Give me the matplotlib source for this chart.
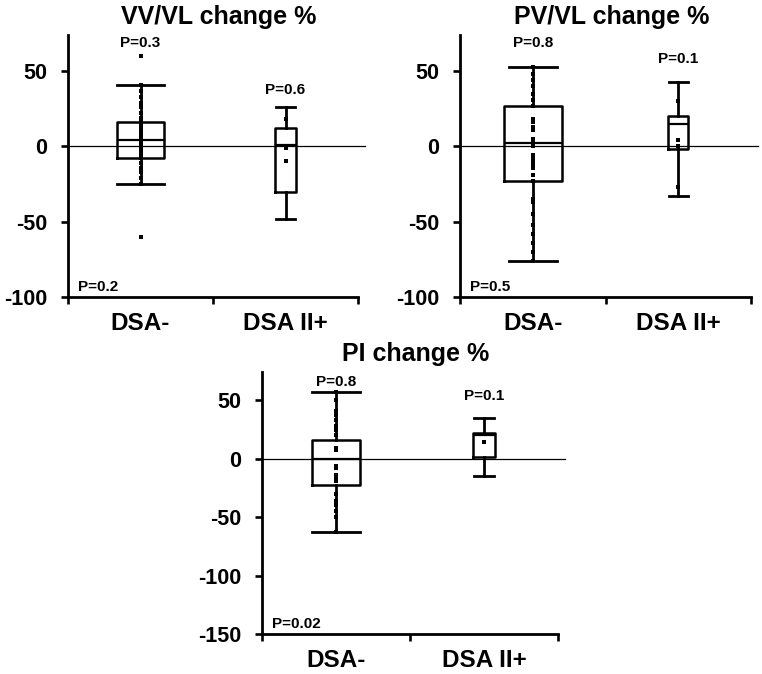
import matplotlib
matplotlib.use("Agg")
import matplotlib.pyplot as plt

plt.rcParams['font.family'] = ['Liberation Sans', 'DejaVu Sans']
plt.rcParams['font.weight'] = 'bold'

categories = ["DSA-", "DSA II+"]

# ---- VV/VL change % ----
vv_med = [4, 1]
vv_q1 = [-8, -30]
vv_q3 = [16, 12]
vv_lo = [-25, -48]
vv_hi = [41, 26]
vv_pts_neg = [60, 41, 37, 33, 29, 26, 22, 19, 16, 14, 12, 10, 8, 6, 4, 2, 0,
              -2, -4, -6, -8, -11, -14, -17, -21, -25, -60]
vv_pts_pos = [18, -1, -10]
vv_p = ["P=0.3", "P=0.6"]
vv_p_all = "P=0.2"

# ---- PV/VL change % ----
pv_med = [2, 15]
pv_q1 = [-23, -2]
pv_q3 = [27, 20]
pv_lo = [-76, -33]
pv_hi = [53, 43]
pv_pts_neg = [53, 48, 44, 40, 35, 31, 27, 18, 16, 13, 11, 5, 3, 1, 0, -6, -8,
              -10, -12, -14, -19, -23, -35, -37, -45, -52, -58, -64, -70, -76]
pv_pts_pos = [30, 4, 0, -27]
pv_p = ["P=0.8", "P=0.1"]
pv_p_all = "P=0.5"

# ---- PI change % ----
pi_med = [0, 20]
pi_q1 = [-23, 1]
pi_q3 = [16, 22]
pi_lo = [-63, -15]
pi_hi = [57, 35]
pi_pts_neg = [57, 50, 41, 37, 33, 28, 24, 20, 9, 7, -6, -8, -14, -16, -19,
              -30, -36, -40, -45, -50, -63]
pi_pts_pos = [14]
pi_p = ["P=0.8", "P=0.1"]
pi_p_all = "P=0.02"

yticks_top = [50, 0, -50, -100]
yticks_bot = [50, 0, -50, -100, -150]

W, H = 762, 674
fig = plt.figure(figsize=(W / 100, H / 100), dpi=100)


def fa(l, r, t, b):
    return [l / W, 1 - b / H, (r - l) / W, (b - t) / H]


def panel(rect, title, med, q1, q3, lo, hi, pts_neg, pts_pos, ptxt, ptxt_y,
          pall, ylim, yticks, widths, capw):
    ax = fig.add_axes(rect)
    stats = []
    for i in range(2):
        stats.append(dict(med=med[i], q1=q1[i], q3=q3[i], whislo=lo[i],
                          whishi=hi[i], fliers=[]))
    ax.bxp(stats, positions=[1, 2], widths=widths, capwidths=capw,
           showfliers=False, manage_ticks=False,
           boxprops=dict(color='black', lw=1.8),
           whiskerprops=dict(color='black', lw=2.0),
           capprops=dict(color='black', lw=2.0),
           medianprops=dict(color='black', lw=1.6))
    ax.plot([1] * len(pts_neg), pts_neg, 's', color='black', ms=2.4, mew=0)
    ax.plot([2] * len(pts_pos), pts_pos, 's', color='black', ms=2.4, mew=0)
    ax.axhline(0, xmin=0, xmax=1.025, color='black', lw=0.9, clip_on=False)
    ax.set_xlim(0.5, 2.5)
    ax.set_ylim(*ylim)
    ax.set_yticks(yticks)
    ax.set_yticklabels([str(v) for v in yticks])
    ax.set_xticks([1, 2])
    ax.set_xticklabels(categories)
    ax.set_xticks([0.5, 1.5, 2.5], minor=True)
    ax.tick_params(axis='x', which='major', length=0, pad=11, labelsize=17.5)
    ax.tick_params(axis='x', which='minor', length=5, width=1.9,
                   direction='out')
    ax.tick_params(axis='y', length=5, width=1.9, pad=10, labelsize=15.5)
    for s in ['top', 'right']:
        ax.spines[s].set_visible(False)
    for s in ['left', 'bottom']:
        ax.spines[s].set_linewidth(2.0)
    for i in range(2):
        ax.text(i + 1, ptxt_y[i], ptxt[i], ha='center', va='center',
                fontsize=11, fontweight='bold')
    ax.text(0.035, 0.038, pall, transform=ax.transAxes, ha='left',
            va='center', fontsize=11, fontweight='bold')
    ax.text(0.52, 1.042, title, transform=ax.transAxes, ha='center',
            va='baseline', fontsize=18, fontweight='bold')
    return ax


panel(fa(68, 358, 35, 297), "VV/VL change %", vv_med, vv_q1, vv_q3, vv_lo,
      vv_hi, vv_pts_neg, vv_pts_pos, vv_p, [68.5, 37.5], vv_p_all,
      (-100, 74), yticks_top, [0.33, 0.14], [0.33, 0.13])
panel(fa(460, 751, 35, 297), "PV/VL change %", pv_med, pv_q1, pv_q3, pv_lo,
      pv_hi, pv_pts_neg, pv_pts_pos, pv_p, [68.5, 58], pv_p_all,
      (-100, 74), yticks_top, [0.40, 0.14], [0.33, 0.13])
panel(fa(262, 558, 372, 634), "PI change %", pi_med, pi_q1, pi_q3, pi_lo,
      pi_hi, pi_pts_neg, pi_pts_pos, pi_p, [65.5, 53.5], pi_p_all,
      (-150, 74), yticks_bot, [0.33, 0.15], [0.33, 0.14])

fig.savefig("out.png", dpi=100)
